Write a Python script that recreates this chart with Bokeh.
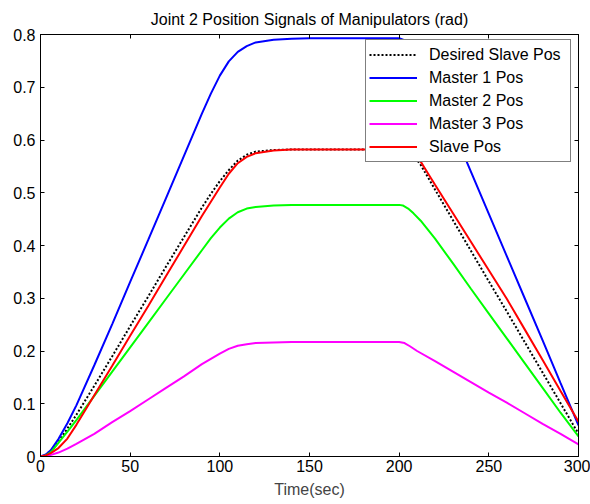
from bokeh.plotting import figure
from bokeh.models import Legend, LegendItem, LinearAxis, FixedTicker, CustomJSTickFormatter, Range1d
from bokeh.embed import file_html
from bokeh.resources import INLINE

# ---- data ----
t_desired = [0, 3, 6, 10, 15, 20, 30, 40, 50, 60, 70, 80, 90, 95, 100, 105, 110, 115, 120, 130, 140,
             200, 203, 206, 209, 212, 220, 230, 240, 250, 260, 270, 280, 290, 300]
v_desired = [0, 0.0035, 0.012, 0.028, 0.053, 0.079, 0.134, 0.190, 0.247, 0.303, 0.360, 0.416, 0.472, 0.498, 0.522,
             0.543, 0.561, 0.572, 0.578, 0.581, 0.582,
             0.582, 0.580, 0.574, 0.566, 0.553, 0.506, 0.448, 0.390, 0.332, 0.275, 0.217, 0.159, 0.101, 0.043]

t_m1 = [0, 3, 6, 10, 15, 20, 30, 40, 50, 60, 70, 80, 90, 95, 100, 105, 110, 115, 120, 130, 140, 150,
        200, 204, 208, 212, 216, 220, 230, 240, 250, 260, 270, 280, 290, 300]
v_m1 = [0, 0.004, 0.013, 0.033, 0.063, 0.097, 0.173, 0.251, 0.331, 0.410, 0.490, 0.570, 0.650, 0.688, 0.722,
        0.749, 0.767, 0.778, 0.785, 0.790, 0.792, 0.793,
        0.793, 0.788, 0.773, 0.752, 0.727, 0.698, 0.620, 0.540, 0.460, 0.380, 0.300, 0.220, 0.139, 0.059]

t_m2 = [0, 3, 6, 10, 15, 20, 30, 40, 50, 60, 70, 80, 90, 95, 100, 105, 110, 115, 120, 130, 140,
        200, 202, 205, 208, 212, 216, 220, 230, 240, 250, 260, 270, 280, 290, 300]
v_m2 = [0, 0.002, 0.009, 0.026, 0.047, 0.069, 0.115, 0.161, 0.207, 0.253, 0.299, 0.345, 0.391, 0.414, 0.434,
        0.451, 0.463, 0.470, 0.473, 0.476, 0.477,
        0.477, 0.476, 0.470, 0.461, 0.447, 0.430, 0.413, 0.366, 0.318, 0.271, 0.224, 0.177, 0.130, 0.083, 0.038]

t_m3 = [0, 5, 10, 15, 20, 30, 40, 50, 60, 70, 80, 90, 100, 105, 110, 115, 120, 130, 140,
        200, 203, 206, 210, 220, 230, 240, 250, 260, 270, 280, 290, 300]
v_m3 = [0, 0.0022, 0.0075, 0.015, 0.024, 0.043, 0.065, 0.086, 0.108, 0.130, 0.152, 0.175, 0.195, 0.204, 0.210,
        0.213, 0.215, 0.216, 0.217,
        0.217, 0.215, 0.209, 0.200, 0.181, 0.161, 0.141, 0.121, 0.102, 0.082, 0.062, 0.043, 0.023]

t_slave = [0, 3, 6, 10, 15, 20, 25, 30, 40, 50, 60, 70, 80, 90, 100, 105, 110, 115, 120, 130, 140,
           200, 204, 208, 212, 216, 220, 230, 240, 250, 260, 270, 280, 290, 300]
v_slave = [0, 0.002, 0.007, 0.016, 0.034, 0.060, 0.088, 0.116, 0.172, 0.229, 0.285, 0.342, 0.399, 0.456, 0.510,
           0.536, 0.556, 0.568, 0.575, 0.580, 0.582,
           0.582, 0.580, 0.573, 0.559, 0.537, 0.515, 0.461, 0.407, 0.353, 0.299, 0.241, 0.183, 0.124, 0.066]

labels = ["Desired Slave Pos", "Master 1 Pos", "Master 2 Pos", "Master 3 Pos", "Slave Pos"]
x_ticks = [0, 50, 100, 150, 200, 250, 300]
y_ticks = [0, 0.1, 0.2, 0.3, 0.4, 0.5, 0.6, 0.7, 0.8]

FONT = "Liberation Sans"
FS = "16px"

p = figure(width=590, height=504, output_backend="svg", toolbar_location=None,
           x_range=Range1d(0, 300), y_range=Range1d(0, 0.8),
           min_border_left=40, min_border_right=12, min_border_top=34, min_border_bottom=48,
           title="Joint 2 Position Signals of Manipulators (rad)")
p.title.align = "center"
p.title.text_font = FONT
p.title.text_font_size = FS
p.title.text_font_style = "normal"
p.title.text_color = "black"
p.title.standoff = 14
p.outline_line_color = "black"
p.xgrid.visible = False
p.ygrid.visible = False
p.background_fill_color = "white"
p.border_fill_color = "white"

fmt = CustomJSTickFormatter(code="return (Math.round(tick*10)/10).toString();")

def style_axis(ax, ticks, show_labels):
    ax.ticker = FixedTicker(ticks=ticks)
    ax.major_tick_in = 4
    ax.major_tick_out = 0
    ax.minor_tick_line_color = None
    ax.axis_line_color = "black"
    ax.major_tick_line_color = "black"
    ax.major_label_text_font = FONT
    if show_labels:
        ax.major_label_text_font_size = FS
        ax.major_label_text_color = "black"
    else:
        ax.major_label_text_font_size = "0px"
        ax.major_label_text_color = None
        ax.major_label_standoff = 0

style_axis(p.xaxis[0], x_ticks, True)
style_axis(p.yaxis[0], y_ticks, True)
p.xaxis[0].major_label_standoff = 3
p.yaxis[0].major_label_standoff = 5
p.yaxis[0].formatter = fmt
p.xaxis[0].axis_label = "Time(sec)"
p.xaxis[0].axis_label_text_font = FONT
p.xaxis[0].axis_label_text_font_size = FS
p.xaxis[0].axis_label_text_font_style = "normal"
p.xaxis[0].axis_label_standoff = 6

ax_top = LinearAxis()
style_axis(ax_top, x_ticks, False)
p.add_layout(ax_top, "above")
ax_right = LinearAxis()
style_axis(ax_right, y_ticks, False)
p.add_layout(ax_right, "right")

r0 = p.line(t_desired, v_desired, line_color="black", line_width=2, line_dash="2 2")
r1 = p.line(t_m1, v_m1, line_color="#0000ff", line_width=2)
r2 = p.line(t_m2, v_m2, line_color="#00ff00", line_width=2)
r3 = p.line(t_m3, v_m3, line_color="#ff00ff", line_width=2)
r4 = p.line(t_slave, v_slave, line_color="#ff0000", line_width=2)

legend = Legend(items=[LegendItem(label=l, renderers=[r]) for l, r in zip(labels, [r0, r1, r2, r3, r4])],
                location=(325, 294))
legend.label_text_font = FONT
legend.label_text_font_size = FS
legend.label_text_color = "black"
legend.glyph_width = 48
legend.glyph_height = 23
legend.label_height = 23
legend.label_width = 138
legend.label_standoff = 12
legend.spacing = 0
legend.padding = 3
legend.margin = 0
legend.border_line_color = "black"
legend.border_line_width = 1
legend.background_fill_alpha = 1
p.add_layout(legend, "center")

open("out.html", "w").write(file_html(p, INLINE))
